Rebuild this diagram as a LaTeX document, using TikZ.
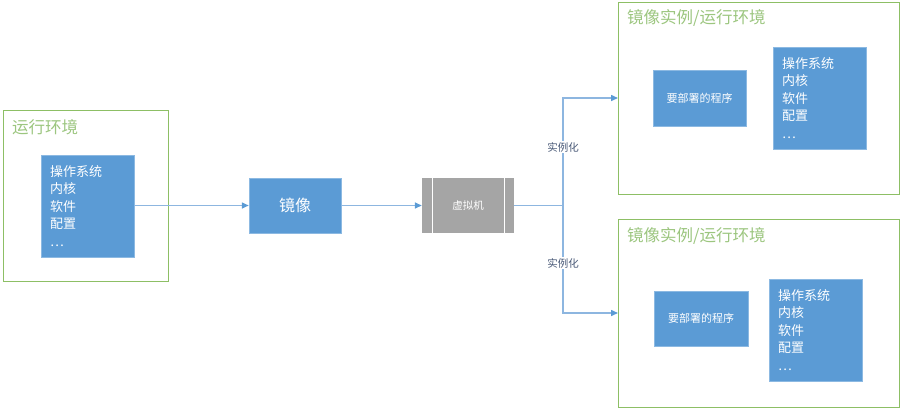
\documentclass[tikz,border=0pt]{standalone}
\usepackage{fontspec}
\setmainfont{Noto Sans CJK SC}
\usetikzlibrary{arrows.meta,positioning}
\definecolor{boxblue}{HTML}{5B9BD5}
\definecolor{linkblue}{HTML}{8DB6E0}
\definecolor{tipblue}{HTML}{5B9BD5}
\definecolor{envgreen}{HTML}{8DBF65}
\definecolor{labgreen}{HTML}{9CC67F}
\definecolor{vmgray}{HTML}{A5A5A5}
\definecolor{lblgray}{HTML}{4A5A78}
\tikzset{
  envbox/.style={draw=envgreen, line width=1pt, fill=white, inner sep=0pt},
  envlabel/.style={text=labgreen, font=\fontsize{16.5}{18}\selectfont, anchor=west, inner sep=0pt},
  bluebox/.style={fill=boxblue, draw=boxblue!70!white, line width=0.5pt, text=white, inner sep=0pt},
  oslist/.style={bluebox, align=left, font=\fontsize{13}{17.5}\selectfont, text width=75pt, inner xsep=9pt, inner ysep=0pt},
  prog/.style={bluebox, font=\fontsize{11}{12}\selectfont},
  link/.style={draw=linkblue, line width=1.5pt, -{Triangle[length=7pt,width=6pt,color=tipblue]}},
  plain/.style={draw=linkblue, line width=1.5pt},
  instlabel/.style={fill=white, text=lblgray, font=\fontsize{10.5}{12}\selectfont, inner sep=1pt},
}
\begin{document}
\begin{tikzpicture}[x=1pt,y=-1pt]
\useasboundingbox (0,0) rectangle (903,408);
% left environment
\node[envbox, minimum width=165pt, minimum height=171pt] (env0) at (85.5,195.5) {};
\node[envlabel] (env0lab) at (12,127) {运行环境};
\node[oslist, minimum width=93pt, minimum height=102pt] (os0) at (87.5,206) {操作系统\\内核\\软件\\配置\\…};
% image
\node[bluebox, minimum width=92pt, minimum height=55pt, font=\fontsize{16}{18}\selectfont] (img) at (295,205.5) {镜像};
% vm
\node[fill=vmgray, minimum width=92pt, minimum height=55pt, inner sep=0pt, text=white, font=\fontsize{10.5}{12}\selectfont] (vm) at (468,205.5) {虚拟机};
\draw[white, line width=0.8pt] ([xshift=11pt]vm.north west) -- ([xshift=11pt]vm.south west);
\draw[white, line width=0.8pt] ([xshift=-10pt]vm.north east) -- ([xshift=-10pt]vm.south east);
% top right environment
\node[envbox, minimum width=281pt, minimum height=192pt] (env1) at (759,98) {};
\node[envlabel] (env1lab) at (627,18) {镜像实例/运行环境};
\node[prog, minimum width=93pt, minimum height=56pt] (prog1) at (699.5,98) {要部署的程序};
\node[oslist, minimum width=93pt, minimum height=102pt] (os1) at (819.5,98) {操作系统\\内核\\软件\\配置\\…};
% bottom right environment
\node[envbox, minimum width=281pt, minimum height=188pt] (env2) at (759,313) {};
\node[envlabel] (env2lab) at (627,236) {镜像实例/运行环境};
\node[prog, minimum width=94pt, minimum height=55pt] (prog2) at (701,318.5) {要部署的程序};
\node[oslist, minimum width=93pt, minimum height=102pt] (os2) at (815.5,330) {操作系统\\内核\\软件\\配置\\…};
% connectors
\coordinate (split) at (563,205.5);
\draw[link] (os0.east |- img.west) -- (img.west);
\draw[link] (img.east) -- (vm.west);
\draw[plain] (vm.east) -- (split);
\draw[link] (split) |- (env1.west);
\draw[link] (split) |- (env2.west);
\node[instlabel] (lab1) at (563,147) {实例化};
\node[instlabel] (lab2) at (563,263) {实例化};
\end{tikzpicture}
\end{document}
